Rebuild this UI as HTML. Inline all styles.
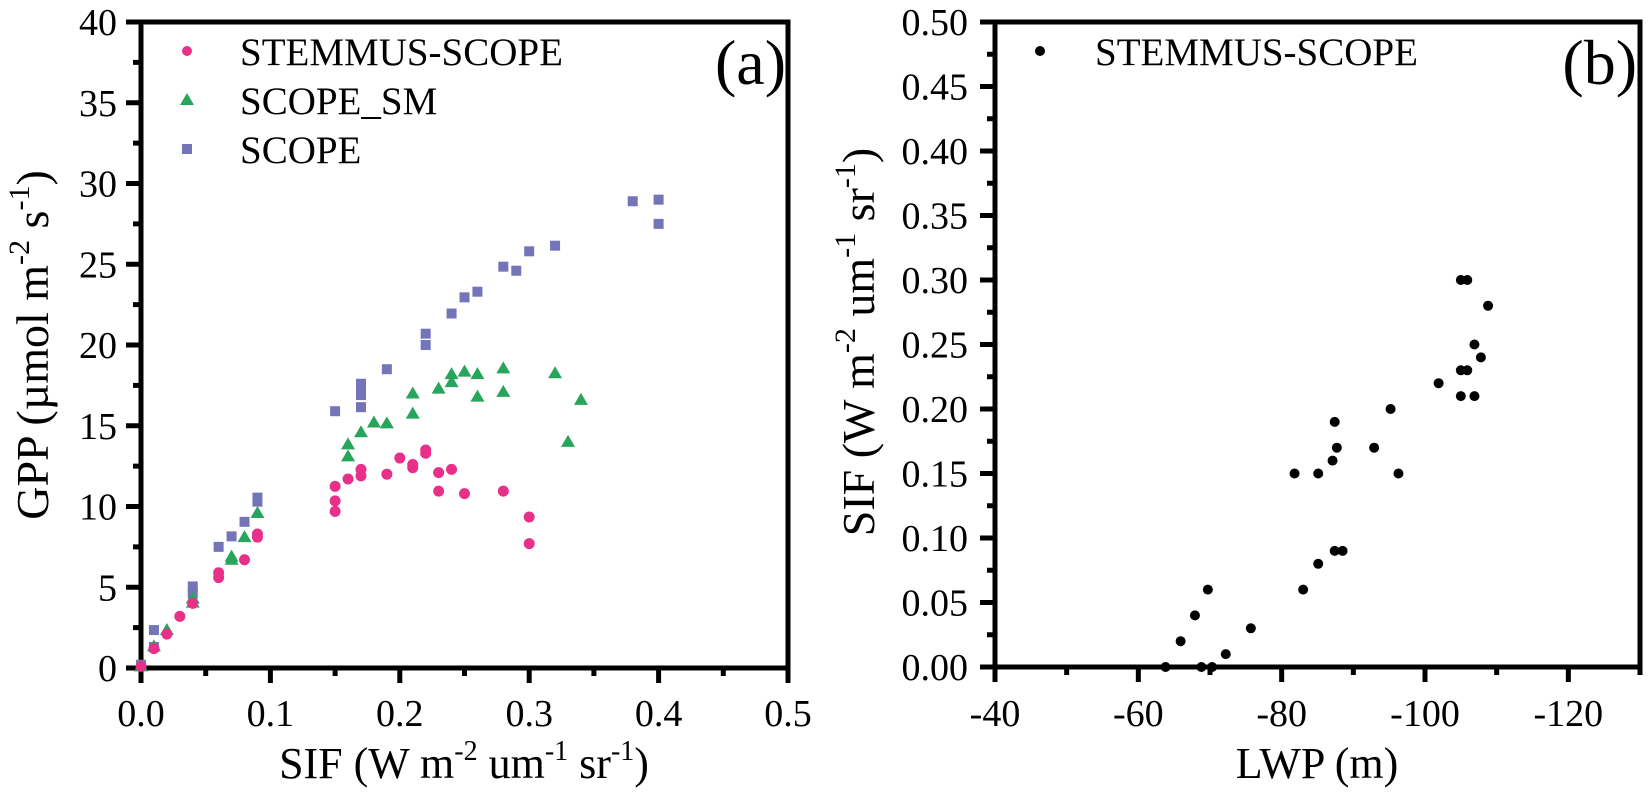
<!DOCTYPE html>
<html><head><meta charset="utf-8"><style>
html,body{margin:0;padding:0;background:#fff;}
svg{display:block;}
text,tspan{font-family:"Liberation Serif","Times New Roman",serif;}
</style></head><body>
<svg id="chart" width="1648" height="792" viewBox="0 0 1648 792" xmlns="http://www.w3.org/2000/svg" style="position:absolute;left:0;top:0;"></svg>
<script>
// Panel (a) data
const stemX=[0,0.01,0.02,0.03,0.04,0.06,0.06,0.08,0.09,0.09,0.15,0.15,0.15,0.16,0.17,0.17,0.19,0.20,0.21,0.21,0.22,0.22,0.23,0.23,0.24,0.25,0.28,0.30,0.30];
const stemY=[0.1,1.2,2.1,3.2,4.0,5.9,5.6,6.7,8.3,8.1,11.25,10.35,9.7,11.7,12.3,11.9,12.0,13.0,12.6,12.4,13.5,13.3,12.1,10.95,12.3,10.8,10.95,9.35,7.7];
const smX=[0,0.01,0.02,0.04,0.04,0.07,0.07,0.08,0.09,0.16,0.16,0.17,0.18,0.19,0.21,0.21,0.23,0.24,0.24,0.25,0.26,0.26,0.28,0.28,0.32,0.33,0.34];
const smY=[0.1,1.35,2.35,4.3,4.05,6.9,6.7,8.1,9.6,13.85,13.1,14.6,15.2,15.15,17.0,15.75,17.3,18.2,17.7,18.35,18.2,16.8,18.55,17.1,18.25,14.0,16.6];
const scX=[0,0.01,0.01,0.04,0.04,0.06,0.07,0.08,0.09,0.09,0.15,0.17,0.17,0.17,0.17,0.19,0.22,0.22,0.24,0.25,0.26,0.28,0.29,0.30,0.32,0.38,0.40,0.40];
const scY=[0.2,2.35,1.3,5.05,4.6,7.5,8.15,9.05,10.55,10.3,15.9,17.6,17.25,16.9,16.15,18.5,20.7,20.0,21.95,22.95,23.3,24.85,24.6,25.8,26.15,28.9,29.0,27.5];
const aXTicks=[0,0.1,0.2,0.3,0.4,0.5];
const aXLabels=["0.0","0.1","0.2","0.3","0.4","0.5"];
const aYTicks=[0,5,10,15,20,25,30,35,40];
// Panel (b) data
const lwp=[-63.8,-65.9,-67.9,-69.7,-68.8,-70.3,-72.2,-75.7,-81.8,-83.0,-85.1,-85.1,-87.1,-87.4,-87.7,-87.4,-88.5,-92.9,-95.2,-96.3,-101.9,-105.0,-105.9,-105.0,-105.9,-105.0,-106.9,-106.9,-107.8,-108.8];
const sif=[0,0.02,0.04,0.06,0,0,0.01,0.03,0.15,0.06,0.15,0.08,0.16,0.19,0.17,0.09,0.09,0.17,0.20,0.15,0.22,0.30,0.30,0.23,0.23,0.21,0.21,0.25,0.24,0.28];
const bXTicks=[-40,-60,-80,-100,-120];
const bYTicks=[0,0.05,0.10,0.15,0.20,0.25,0.30,0.35,0.40,0.45,0.50];

const svg=document.getElementById('chart');
const NS='http://www.w3.org/2000/svg';
function mk(tag,attrs,parent){const e=document.createElementNS(NS,tag);for(const k in attrs)e.setAttribute(k,attrs[k]);(parent||svg).appendChild(e);return e;}

const A={l:141,r:788,t:22,b:668,x0:0,x1:0.5,y0:0,y1:40};
const B={l:995,r:1640,t:22,b:667,x0:-40,x1:-130,y0:0,y1:0.5};
const ax=v=>A.l+(v-A.x0)/(A.x1-A.x0)*(A.r-A.l);
const ay=v=>A.b-(v-A.y0)/(A.y1-A.y0)*(A.b-A.t);
const bx=v=>B.l+(v-B.x0)/(B.x1-B.x0)*(B.r-B.l);
const by=v=>B.b-(v-B.y0)/(B.y1-B.y0)*(B.b-B.t);

function frame(P,name){
  const r=mk('rect',{x:P.l,y:P.t,width:P.r-P.l,height:P.b-P.t,fill:'none',stroke:'#000','stroke-width':5});
  
  
}
frame(A,'plot-frame-a');frame(B,'plot-frame-b');

const TF=38;
aXTicks.forEach((v,i)=>{
  const x=ax(v);
  const t=mk('line',{x1:x,x2:x,y1:A.b,y2:A.b+15,stroke:'#000','stroke-width':5});
  
  
  if(i<aXTicks.length-1){const m=mk('line',{x1:ax(v+0.05),x2:ax(v+0.05),y1:A.b,y2:A.b+8,stroke:'#000','stroke-width':5});
    
    }
  const l=mk('text',{x:x,y:726,'font-size':TF,'text-anchor':'middle'});l.textContent=aXLabels[i];
  
  
});
aYTicks.forEach((v,i)=>{
  const y=ay(v);
  const t=mk('line',{x1:A.l-15,x2:A.l,y1:y,y2:y,stroke:'#000','stroke-width':5});
  
  
  if(i<aYTicks.length-1){const m=mk('line',{x1:A.l-8,x2:A.l,y1:ay(v+2.5),y2:ay(v+2.5),stroke:'#000','stroke-width':5});
    
    }
  const l=mk('text',{x:117,y:y+13,'font-size':TF,'text-anchor':'end'});l.textContent=String(v);
  
  
});
bXTicks.forEach((v,i)=>{
  const x=bx(v);
  const t=mk('line',{x1:x,x2:x,y1:B.b,y2:B.b+15,stroke:'#000','stroke-width':5});
  
  
  const m=mk('line',{x1:bx(v-10),x2:bx(v-10),y1:B.b,y2:B.b+8,stroke:'#000','stroke-width':5});
  
  
  const l=mk('text',{x:x,y:726,'font-size':TF,'text-anchor':'middle'});l.textContent=String(v);
  
  
});
bYTicks.forEach((v,i)=>{
  const y=by(v);
  const t=mk('line',{x1:B.l-15,x2:B.l,y1:y,y2:y,stroke:'#000','stroke-width':5});
  
  
  if(i<bYTicks.length-1){const m=mk('line',{x1:B.l-8,x2:B.l,y1:by(v+0.025),y2:by(v+0.025),stroke:'#000','stroke-width':5});
    
    }
  const l=mk('text',{x:968,y:y+13,'font-size':TF,'text-anchor':'end'});l.textContent=v.toFixed(2);
  
  
});

const PINK='#e8308a',GREEN='#27a55a',BLUE='#7474b8';
function circle(x,y,r,c,name){const e=mk('circle',{cx:x,cy:y,r:r,fill:c});
  
  return e;}
function square(x,y,c,name){const e=mk('rect',{x:x-5,y:y-5,width:10,height:10,fill:c});
  
  return e;}
function tri(x,y,c,name){const e=mk('polygon',{points:`${x},${y-7} ${x+7},${y+5} ${x-7},${y+5}`,fill:c});
  
  return e;}
scX.forEach((v,i)=>square(ax(v),ay(scY[i]),BLUE,'scope-point'));
smX.forEach((v,i)=>tri(ax(v),ay(smY[i]),GREEN,'scope-sm-point'));
stemX.forEach((v,i)=>circle(ax(v),ay(stemY[i]),5.5,PINK,'stemmus-scope-point'));
lwp.forEach((v,i)=>circle(bx(v),by(sif[i]),5,'#000','sif-lwp-point'));

circle(187,51,5,PINK,'legend-marker-stemmus-scope');
tri(187,100,GREEN,'legend-marker-scope-sm');
square(187,149,BLUE,'legend-marker-scope');
function txt(x,y,s,fs,name,anchor){const e=mk('text',{x:x,y:y,'font-size':fs,'text-anchor':anchor||'start'});e.textContent=s;
  
  return e;}
txt(240,65,'STEMMUS-SCOPE',39,'legend-label-stemmus-scope');
txt(240,114,'SCOPE_SM',39,'legend-label-scope-sm');
txt(240,163,'SCOPE',39,'legend-label-scope');
circle(1040,51,5,'#000','legend-marker-b');
txt(1095,65,'STEMMUS-SCOPE',39,'legend-label-b');
txt(786,84,'(a)',64,'panel-label-a','end');
txt(1637,84,'(b)',64,'panel-label-b','end');
</script>
<svg width="1648" height="792" style="position:absolute;left:0;top:0;pointer-events:none;" xmlns="http://www.w3.org/2000/svg">
<text x="464" y="778" font-size="44" text-anchor="middle">SIF (W m<tspan font-size="28" dy="-18">-2</tspan><tspan dy="18"> um</tspan><tspan font-size="28" dy="-18">-1</tspan><tspan dy="18"> sr</tspan><tspan font-size="28" dy="-18">-1</tspan><tspan dy="18">)</tspan></text>
<text x="1317" y="778" font-size="44" text-anchor="middle">LWP (m)</text>
<text transform="translate(48,345) rotate(-90)" font-size="46" text-anchor="middle">GPP (µmol m<tspan font-size="30" dy="-19">-2</tspan><tspan dy="19"> s</tspan><tspan font-size="30" dy="-19">-1</tspan><tspan dy="19">)</tspan></text>
<text transform="translate(874,342) rotate(-90)" font-size="46" text-anchor="middle">SIF (W m<tspan font-size="30" dy="-19">-2</tspan><tspan dy="19"> um</tspan><tspan font-size="30" dy="-19">-1</tspan><tspan dy="19"> sr</tspan><tspan font-size="30" dy="-19">-1</tspan><tspan dy="19">)</tspan></text>
</svg>
</body></html>
